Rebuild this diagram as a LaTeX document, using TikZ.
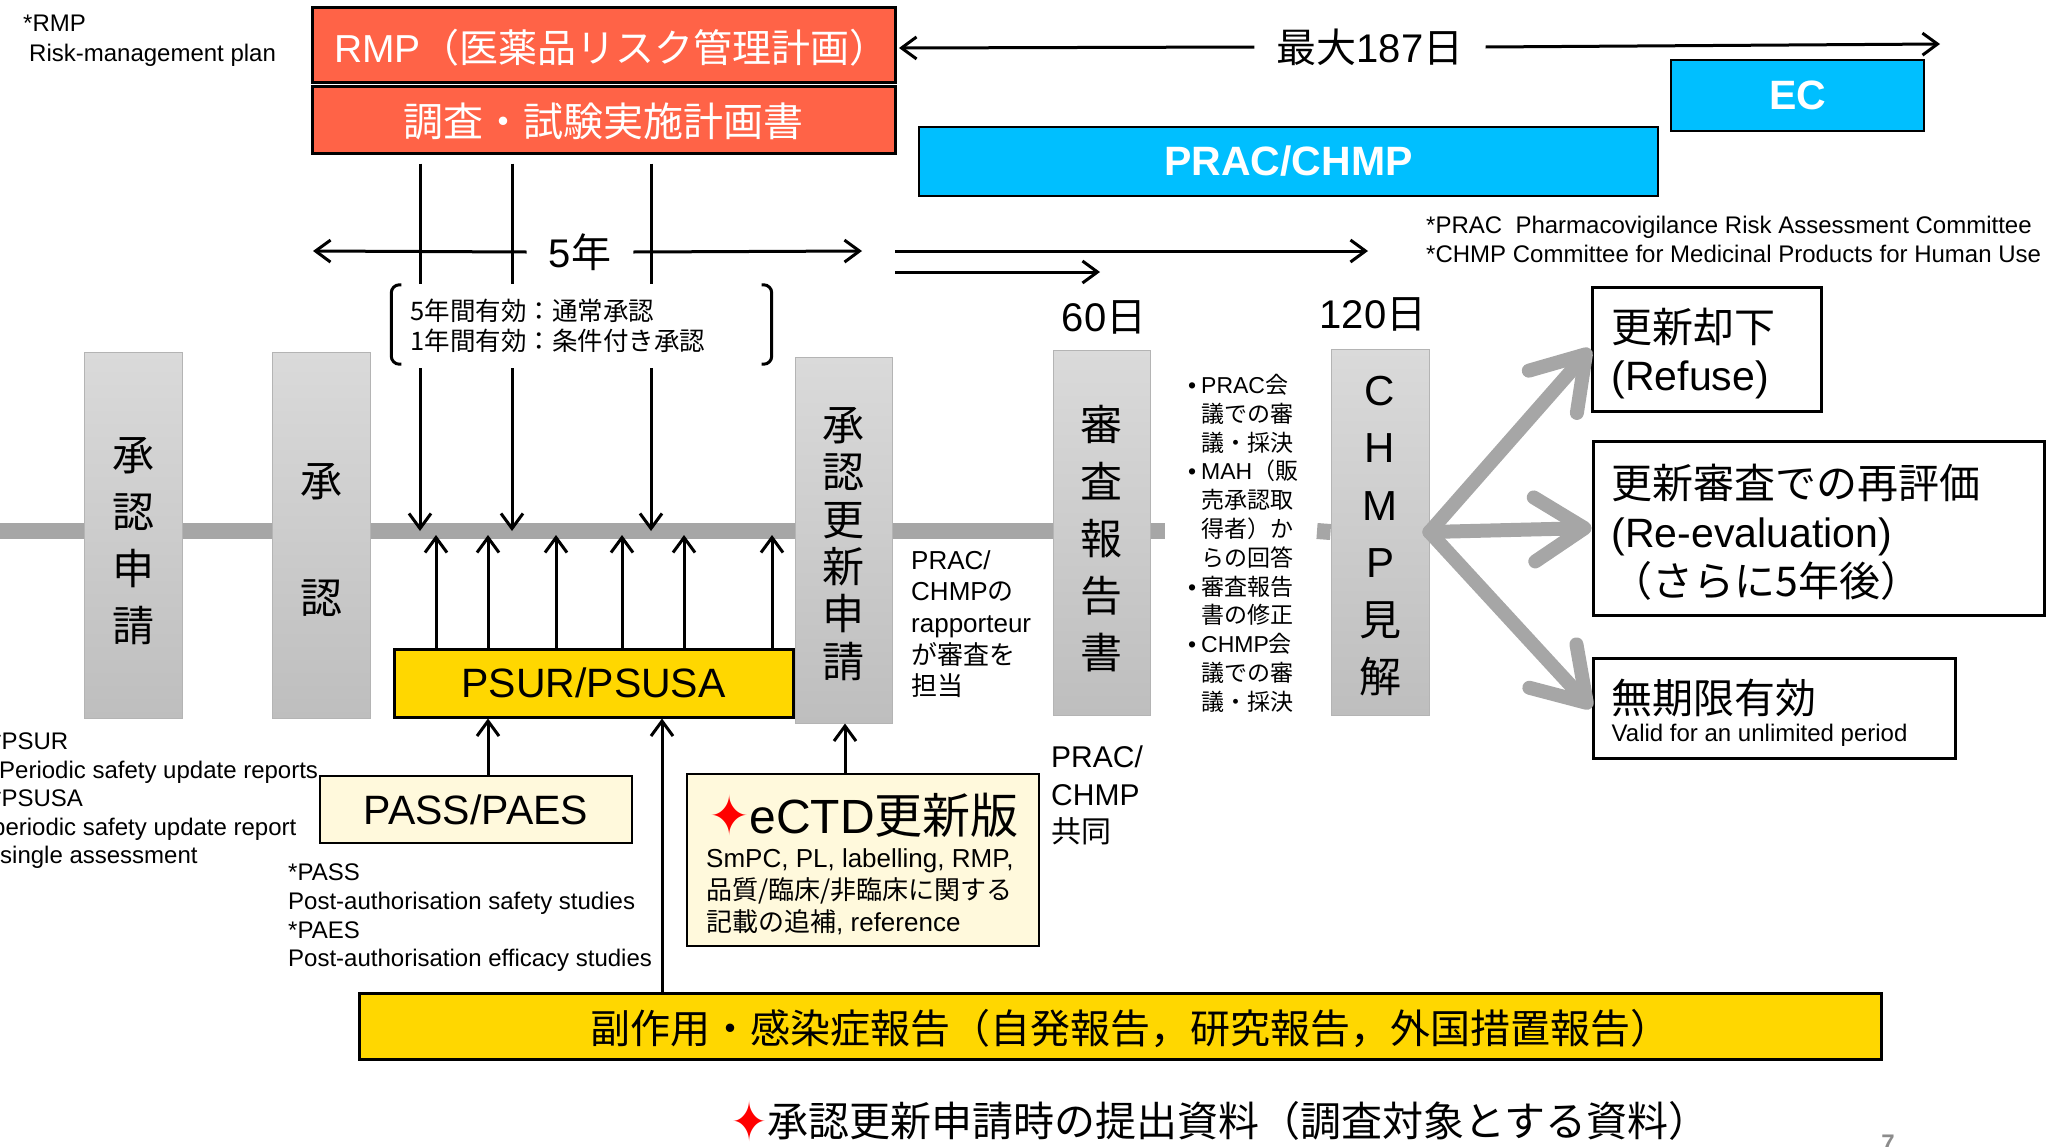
\documentclass[tikz,border=0pt]{standalone}
\usepackage{fontspec}
\usepackage{graphicx}
\setmainfont{Liberation Sans}
\newfontfamily\jp{Noto Sans CJK JP}
\newfontfamily\lat{Liberation Sans}
\newfontfamily\dv{DejaVu Sans}
\usetikzlibrary{arrows.meta,calc}
\definecolor{tomatoR}{HTML}{FF6347}
\definecolor{skyB}{HTML}{00BFFF}
\definecolor{goldY}{HTML}{FFD700}
\definecolor{creamY}{HTML}{FFF9DC}
\definecolor{barG}{HTML}{A6A6A6}
\definecolor{gTop}{HTML}{DADADA}
\definecolor{gBot}{HTML}{BEBEBE}
\definecolor{gEdge}{HTML}{B4B4B4}
\definecolor{pageG}{HTML}{8C8C8C}
\newcommand\fsz[2]{\fontsize{#1}{#2}\selectfont}
\newcommand\dia[3]{{\dv\color{red}\raisebox{#3}{\scalebox{#1}[#2]{✦}}}}
\begin{document}
\begin{tikzpicture}[x=1pt,y=-1pt,
  bx/.style={draw=black, line width=3pt, inner sep=0pt, align=center},
  gbox/.style={draw=gEdge, line width=1pt, top color=gTop, bottom color=gBot,
    minimum width=98pt, minimum height=366pt, inner sep=0pt},
  gtxt/.style={inner sep=0pt, align=center},
  txt/.style={inner sep=0pt, align=left},
  arr/.style={line width=3pt, -{Straight Barb[length=15pt,width=22pt]}},
  bigarr/.style={draw=barG, line width=14pt, line cap=round,
    -{Straight Barb[length=50pt,width=64pt,round]}},
  tline/.style={draw=barG, line width=16pt}]
\useasboundingbox (0,0) rectangle (2049,1146);

% notes
\node[txt, anchor=north west, font=\fsz{24}{30}] (rmpnote) at (23,15)
  {*RMP\\\hspace*{6pt}Risk-management plan};
\node[txt, anchor=north west, font=\fsz{24}{29}] (pracnote) at (1426,216)
  {*PRAC\ \ Pharmacovigilance Risk Assessment Committee\\*CHMP Committee for Medicinal Products for Human Use};
\node[txt, anchor=north west, font=\fsz{24}{28.4}] (psurnote) at (-8,733)
  {*PSUR\\\hspace*{7pt}Periodic safety update reports\\*PSUSA\\periodic safety update report\\\hspace*{8pt}single assessment};
\node[txt, anchor=north west, font=\fsz{24}{28.6}] (passnote) at (288,864)
  {*PASS\\Post-authorisation safety studies\\*PAES\\Post-authorisation efficacy studies};
\node[txt, anchor=north west, font=\fsz{26}{31.7}] (rapp) at (911,550)
  {PRAC/\\CHMP{\jp の}\\rapporteur\\{\jp が審査を}\\{\jp 担当}};
\node[txt, anchor=north west, font=\fsz{30}{37.5}] (joint) at (1051,746)
  {PRAC/\\CHMP\\{\jp 共同}};

% top boxes
\node[bx, fill=tomatoR, text=white, minimum width=583pt, minimum height=75pt] (rmp) at (603.5,44.5) {};
\node[inner sep=0pt, text=white, font=\fsz{39}{46}] (rmpT) at ($(rmp.center)+(8,3)$) {RMP{\jp （医薬品リスク管理計画）}};
\node[bx, fill=tomatoR, text=white, minimum width=583pt, minimum height=67pt] (plan) at (603.5,119.5) {};
\node[inner sep=0pt, text=white, font=\jp\fsz{40}{48}] (planT) at ($(plan.center)+(0,2)$) {調査・試験実施計画書};
\node[bx, line width=2pt, fill=skyB, text=white, minimum width=253pt, minimum height=71pt,
  font=\bfseries\fsz{41}{48}] (ec) at (1797.5,95.5) {EC};
\node[bx, line width=2pt, fill=skyB, text=white, minimum width=739pt, minimum height=69pt,
  font=\bfseries\fsz{41}{48}] (prac) at (1288.5,161.5) {PRAC/CHMP};

% max 187 days
\node[inner sep=0pt, inner xsep=22pt, font=\fsz{40}{48}] (maxd) at (1370,47) {{\jp 最大}187{\jp 日}};
\coordinate (maxL) at (899,48);
\coordinate (maxR) at (1940,44);
\draw[arr] (maxd.west) -- (maxL);
\draw[arr] (maxd.east) -- (maxR);

% 5 years
\node[inner sep=0pt, inner xsep=22pt, font=\fsz{40}{48}] (five) at (580,252) {5{\jp 年}};
\coordinate (fiveL) at (313,251);
\coordinate (fiveR) at (862,251);
\draw[arr] (five.west) -- (fiveL);
\draw[arr] (five.east) -- (fiveR);

% arrows to 60 / 120 days
\node[font=\fsz{40}{48}, inner sep=0pt] (d60) at (1104,317) {60{\jp 日}};
\node[font=\fsz{40}{48}, inner sep=0pt] (d120) at (1373,314) {120{\jp 日}};
\coordinate (ra1) at (895,251);
\coordinate (ra2) at (1368,251);
\coordinate (rb1) at (895,272);
\coordinate (rb2) at (1100,272);
\draw[arr] (ra1) -- (ra2);
\draw[arr] (rb1) -- (rb2);

% timeline bar
\coordinate (barA) at (0,531);
\coordinate (barB) at (1165,531);
\coordinate (barC) at (1317,531);
\draw[tline] (barA) -- (barB);

% grey boxes
\node[gbox] (g1) at (133,535) {};
\node[gtxt, font=\jp\fsz{42}{57}] (g1t) at ($(g1.center)+(0,6)$) {承\\認\\申\\請};
\node[gbox] (g2) at (321,535) {};
\node[gtxt, font=\jp\fsz{42}{117}] (g2t) at ($(g2.center)+(0,5)$) {承\\認};
\node[gbox, minimum width=97pt] (g3) at (843.5,540) {};
\node[gtxt, font=\jp\fsz{42}{47.3}] (g3t) at ($(g3.center)+(0,4)$) {承\\認\\更\\新\\申\\請};
\node[gbox, minimum width=97pt, minimum height=365pt] (g4) at (1101.5,532.5) {};
\node[gtxt, font=\jp\fsz{42}{57}] (g4t) at ($(g4.center)+(0,6)$) {審\\査\\報\\告\\書};
\node[gbox] (g5) at (1380,532) {};
\node[gtxt, font=\fsz{42}{57.5}] (g5t) at ($(g5.center)+(0,4)$) {C\\H\\M\\P\\{\jp 見}\\{\jp 解}};
\draw[tline] (barC) -- (g5.west);

% bullets
\node[txt, anchor=north west, font=\fsz{23}{28.8}] (bul) at (1201,374)
  {\llap{\textbullet\hspace{5pt}}PRAC{\jp 会}\\
   {\jp 議での審}\\
   {\jp 議・採決}\\
   \llap{\textbullet\hspace{5pt}}MAH{\jp （販}\\
   {\jp 売承認取}\\
   {\jp 得者）か}\\
   {\jp らの回答}\\
   \llap{\textbullet\hspace{5pt}}{\jp 審査報告}\\
   {\jp 書の修正}\\
   \llap{\textbullet\hspace{5pt}}CHMP{\jp 会}\\
   {\jp 議での審}\\
   {\jp 議・採決}};

% PSUR etc
\node[bx, fill=goldY, minimum width=399pt, minimum height=68pt, font=\fsz{41}{48}] (psur) at (593.5,683) {PSUR/PSUSA};
\node[bx, line width=2.5pt, fill=creamY, minimum width=312pt, minimum height=67pt, font=\fsz{41}{48}] (pass) at (476,809.5) {PASS/PAES};
\node[bx, line width=2.5pt, fill=creamY, minimum width=352pt, minimum height=172pt] (ectd) at (863,860) {};
\node[anchor=west, inner sep=0pt, font=\fsz{48}{54}] (ectdT) at (709,815) {\dia{1}{1.15}{-0.04em}eCTD{\jp 更新版}};
\node[txt, anchor=north west, font=\fsz{26}{32}] (ectdB) at (706,848)
  {SmPC, PL, labelling, RMP,\\{\jp 品質/臨床/非臨床に関する}\\{\jp 記載の追補}, reference};
\node[bx, fill=goldY, minimum width=1522pt, minimum height=66pt] (side) at (1120,1026) {};
\node[inner sep=0pt, font=\jp\fsz{40}{46}] (sideT) at ($(side.center)+(10,3)$)
  {副作用・感染症報告（自発報告，研究報告，外国措置報告）};

% down arrows from plan
\foreach \i/\x in {1/420,2/512,3/651}{
  \coordinate (d\i) at (\x,531);
  \draw[arr, shorten <=9pt] (plan.south -| d\i) -- (d\i);
}
% up arrows from PSUR
\foreach \i/\x in {1/436,2/488,3/556,4/622,5/684,6/772}{
  \coordinate (u\i) at (\x,535);
  \draw[arr] (psur.north -| u\i) -- (u\i);
}
\coordinate (p1) at (488,717);
\draw[arr] (pass.north -| p1) -- (psur.south -| p1);
\coordinate (s1) at (662,717);
\draw[arr] (side.north -| s1) -- (psur.south -| s1);
\coordinate (e1) at (845,723);
\draw[arr] (ectd.north -| e1) -- (g3.south -| e1);

% bracket with validity text
\node[fill=white, inner ysep=0pt, inner xsep=19pt, text width=342pt, minimum height=84pt,
  align=left, font=\jp\fsz{25.5}{30}] (brk) at (581.5,326) {5年間有効：通常承認\\1年間有効：条件付き承認};
\draw[line width=3pt, rounded corners=8pt] ($(brk.north west)+(10,1)$) -- ($(brk.north west)+(0,1)$) -- ($(brk.south west)+(0,-4)$) -- ($(brk.south west)+(10,-4)$);
\draw[line width=3pt, rounded corners=8pt] ($(brk.north east)+(-10,1)$) -- ($(brk.north east)+(0,1)$) -- ($(brk.south east)+(0,-4)$) -- ($(brk.south east)+(-10,-4)$);

% right outcome boxes
\node[bx, fill=white, minimum width=229pt, minimum height=124pt] (refuse) at (1706.5,349) {};
\node[txt, anchor=west, font=\jp\fsz{41}{48}] (refuseT) at ($(refuse.west)+(21,5)$) {更新却下\\{\lat (Refuse)}};
\node[bx, fill=white, minimum width=451pt, minimum height=174pt] (reeval) at (1818.5,528) {};
\node[txt, anchor=west, font=\jp\fsz{41}{49}] (reevalT) at ($(reeval.west)+(20,4)$) {更新審査での再評価\\{\lat (Re-evaluation)}\\（さらに5年後）};
\node[bx, fill=white, minimum width=362pt, minimum height=100pt] (unlim) at (1774,708) {};
\node[inner sep=0pt, anchor=west, font=\jp\fsz{41}{48}] (unlimT) at ($(unlim.west)+(20,-10)$) {無期限有効};
\node[inner sep=0pt, anchor=west, font=\fsz{24}{28}] (unlimS) at ($(unlim.west)+(20,27)$) {Valid for an unlimited period};

\draw[bigarr] (g5.east) -- (refuse.west);
\draw[bigarr] (g5.east) -- (reeval.west);
\draw[bigarr] (g5.east) -- (unlim.west);

% bottom note
\node[anchor=west, inner sep=0pt, font=\jp\fsz{41}{48}] (note) at (731,1121) {\dia{1.05}{1.35}{-0.12em}承認更新申請時の提出資料（調査対象とする資料）};
\node[anchor=base, inner sep=0pt, text=pageG, font=\bfseries\fsz{24}{28}] (pg) at (1888,1151) {7};
\end{tikzpicture}
\end{document}
